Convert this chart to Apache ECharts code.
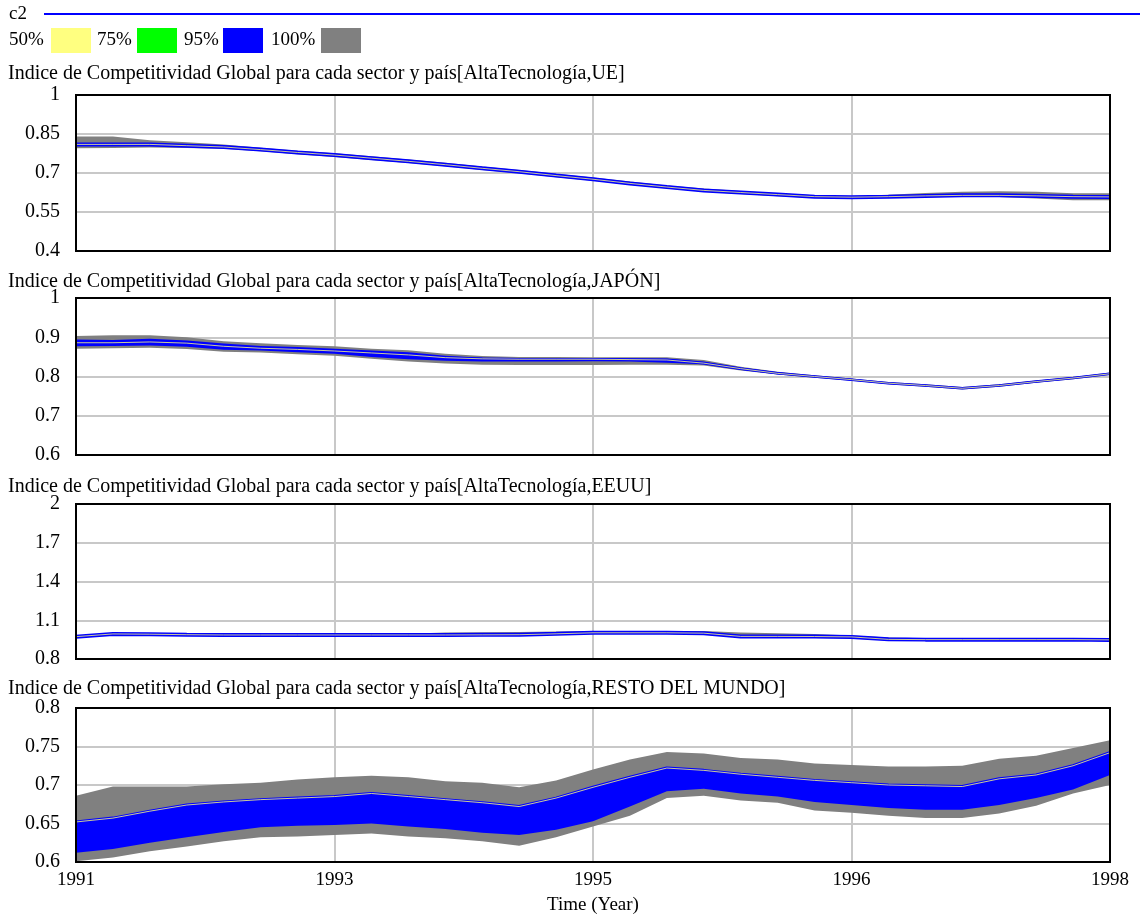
<!DOCTYPE html>
<html>
<head>
<meta charset="utf-8">
<title>Indice de Competitividad Global – AltaTecnología</title>
<script src="https://cdn.jsdelivr.net/npm/echarts@6/dist/echarts.min.js"></script>
<style>
  html, body { margin: 0; padding: 0; background: #fff; }
  #chart { width: 1140px; height: 919px; }
</style>
</head>
<body>
<div id="chart"></div>
<script>
// Simulation time (years), quarterly samples
const years = [1991, 1991.25, 1991.5, 1991.75, 1992, 1992.25, 1992.5, 1992.75,
  1993, 1993.25, 1993.5, 1993.75, 1994, 1994.25, 1994.5, 1994.75,
  1995, 1995.25, 1995.5, 1995.75, 1996, 1996.25, 1996.5, 1996.75,
  1997, 1997.25, 1997.5, 1997.75, 1998];

// Time axis tick labels, one every seven samples (axis split in four equal steps)
const xTickLabels = ['1991', '1993', '1995', '1996', '1998'];
const xTickEvery = 7;

const panelTitles = [
  'Indice de Competitividad Global para cada sector y país[AltaTecnología,UE]',
  'Indice de Competitividad Global para cada sector y país[AltaTecnología,JAPÓN]',
  'Indice de Competitividad Global para cada sector y país[AltaTecnología,EEUU]',
  'Indice de Competitividad Global para cada sector y país[AltaTecnología,RESTO DEL MUNDO]'
];

// UE
const ueC2 = [0.810, 0.810, 0.810, 0.805, 0.800, 0.790, 0.779, 0.769, 0.757, 0.745, 0.732, 0.718,
  0.705, 0.690, 0.676, 0.660, 0.646, 0.633, 0.625, 0.617, 0.609, 0.607, 0.609, 0.612,
  0.614, 0.614, 0.612, 0.609, 0.608];
const ueHi100 = [0.840, 0.840, 0.826, 0.818, 0.810, 0.797, 0.786, 0.776, 0.764, 0.752, 0.739, 0.725,
  0.712, 0.697, 0.683, 0.667, 0.652, 0.640, 0.631, 0.622, 0.614, 0.612, 0.616, 0.623,
  0.628, 0.630, 0.628, 0.622, 0.622];
const ueLo100 = [0.795, 0.796, 0.798, 0.796, 0.793, 0.784, 0.772, 0.762, 0.750, 0.738, 0.726, 0.712,
  0.699, 0.684, 0.670, 0.655, 0.640, 0.628, 0.619, 0.611, 0.604, 0.603, 0.604, 0.607,
  0.609, 0.608, 0.602, 0.595, 0.595];

// JAPÓN
const jpC2 = [0.886, 0.886, 0.888, 0.885, 0.877, 0.872, 0.869, 0.865, 0.860, 0.855, 0.848, 0.845,
  0.844, 0.844, 0.844, 0.843, 0.842, 0.834, 0.820, 0.808, 0.800, 0.792, 0.783, 0.777,
  0.770, 0.777, 0.787, 0.796, 0.807];
const jpHi95 = [0.894, 0.893, 0.896, 0.892, 0.884, 0.878, 0.875, 0.871, 0.866, 0.862, 0.853, 0.848,
  0.847, 0.847, 0.847, 0.846, 0.846, 0.838, 0.823, 0.811, 0.802, 0.794, 0.785, 0.779,
  0.772, 0.779, 0.789, 0.798, 0.809];
const jpLo95 = [0.877, 0.878, 0.879, 0.876, 0.868, 0.866, 0.862, 0.858, 0.850, 0.844, 0.840, 0.838,
  0.838, 0.838, 0.839, 0.838, 0.835, 0.831, 0.817, 0.806, 0.798, 0.790, 0.781, 0.775,
  0.768, 0.775, 0.785, 0.794, 0.805];
const jpHi100 = [0.903, 0.905, 0.905, 0.900, 0.890, 0.885, 0.880, 0.877, 0.871, 0.867, 0.858, 0.852,
  0.850, 0.850, 0.849, 0.849, 0.849, 0.842, 0.825, 0.812, 0.803, 0.795, 0.786, 0.780,
  0.773, 0.780, 0.790, 0.799, 0.810];
const jpLo100 = [0.871, 0.872, 0.873, 0.870, 0.863, 0.861, 0.857, 0.853, 0.845, 0.838, 0.833, 0.830,
  0.829, 0.829, 0.829, 0.830, 0.830, 0.828, 0.815, 0.805, 0.797, 0.789, 0.780, 0.774,
  0.767, 0.774, 0.784, 0.793, 0.804];

// EEUU
const usC2 = [0.973, 0.994, 0.992, 0.988, 0.986, 0.986, 0.986, 0.986, 0.986, 0.986, 0.986, 0.987,
  0.988, 0.995, 1.003, 1.003, 1.003, 1.000, 0.975, 0.975, 0.974, 0.971, 0.952, 0.950,
  0.950, 0.950, 0.950, 0.950, 0.948];
const usHi100 = [0.977, 0.998, 0.997, 0.993, 0.992, 0.992, 0.993, 0.993, 0.993, 0.995, 1.006, 1.008,
  1.010, 1.012, 1.016, 1.016, 1.016, 1.016, 1.005, 1.000, 0.993, 0.982, 0.966, 0.960,
  0.960, 0.960, 0.960, 0.960, 0.958];
const usLo100 = [0.969, 0.989, 0.986, 0.982, 0.982, 0.982, 0.982, 0.982, 0.982, 0.982, 0.982, 0.982,
  0.983, 0.986, 0.993, 0.993, 0.993, 0.988, 0.970, 0.966, 0.963, 0.958, 0.944, 0.940,
  0.940, 0.940, 0.940, 0.940, 0.938];

// RESTO DEL MUNDO
const rmC2 = [0.652, 0.657, 0.666, 0.674, 0.678, 0.681, 0.683, 0.685, 0.689, 0.685, 0.681, 0.677,
  0.672, 0.683, 0.697, 0.710, 0.722, 0.719, 0.714, 0.710, 0.706, 0.703, 0.700, 0.699,
  0.698, 0.708, 0.713, 0.725, 0.742];
const rmLo95 = [0.612, 0.617, 0.625, 0.632, 0.639, 0.645, 0.647, 0.648, 0.650, 0.646, 0.643, 0.638,
  0.635, 0.642, 0.653, 0.672, 0.692, 0.695, 0.689, 0.685, 0.678, 0.674, 0.670, 0.668,
  0.668, 0.674, 0.683, 0.694, 0.713];
const rmHi100 = [0.686, 0.698, 0.698, 0.698, 0.701, 0.703, 0.707, 0.710, 0.712, 0.710, 0.705, 0.703,
  0.697, 0.706, 0.720, 0.733, 0.743, 0.741, 0.735, 0.733, 0.728, 0.726, 0.724, 0.724,
  0.725, 0.734, 0.738, 0.748, 0.758];
const rmLo100 = [0.601, 0.606, 0.614, 0.620, 0.627, 0.632, 0.633, 0.635, 0.637, 0.633, 0.631, 0.627,
  0.621, 0.632, 0.646, 0.660, 0.683, 0.686, 0.680, 0.677, 0.667, 0.664, 0.660, 0.657,
  0.657, 0.663, 0.673, 0.689, 0.700];

// Y axis ranges per panel
const yMins = [0.4, 0.6, 0.8, 0.6];
const yMaxs = [1, 1, 2, 0.8];
const yIntervals = [0.15, 0.1, 0.3, 0.05];

const COLORS = { p50: '#ffff80', p75: '#00ff00', p95: '#0000ff', p100: '#808080', c2: '#0000ff' };
const FONT = 'Liberation Serif, Times New Roman, serif';
const HIDDEN = 'rgba(0,0,0,0)';

const PLOT_LEFT = 76, PLOT_RIGHT = 30, CANVAS_W = 1140;
const gridBoxes = [
  { top: 95, height: 156 },
  { top: 298, height: 157 },
  { top: 504, height: 155 },
  { top: 708, height: 154 }
];
const titleTops = [64, 272, 477, 679];

const diff = (hi, lo) => hi.map((v, i) => +(v - lo[i]).toFixed(4));

// A filled band between lo and hi: invisible base + stacked thickness
function band(gi, id, lo, hi, color) {
  return [
    { type: 'line', xAxisIndex: gi, yAxisIndex: gi, stack: id, data: lo,
      symbol: 'none', silent: true, color: HIDDEN, lineStyle: { color: HIDDEN, width: 0 }, z: 2 },
    { type: 'line', xAxisIndex: gi, yAxisIndex: gi, stack: id, data: diff(hi, lo),
      symbol: 'none', silent: true, color: color, lineStyle: { color: HIDDEN, width: 0 },
      areaStyle: { color: color, opacity: 1 }, z: 2 }
  ];
}

// c2 run: blue stroke with the pale 50% core along it
function c2Line(gi, arr, width) {
  return [
    { type: 'line', xAxisIndex: gi, yAxisIndex: gi, data: arr, symbol: 'none', silent: true,
      color: COLORS.c2, lineStyle: { color: COLORS.c2, width: width }, z: 4 },
    { type: 'line', xAxisIndex: gi, yAxisIndex: gi, data: arr, symbol: 'none', silent: true,
      color: COLORS.p50, lineStyle: { color: COLORS.p50, width: 0.8 }, z: 5 }
  ];
}

const series = [].concat(
  band(0, 'ue100', ueLo100, ueHi100, COLORS.p100),
  c2Line(0, ueC2, 4),
  band(1, 'jp100', jpLo100, jpHi100, COLORS.p100),
  band(1, 'jp95', jpLo95, jpHi95, COLORS.p95),
  c2Line(1, jpC2, 2.5),
  band(2, 'us100', usLo100, usHi100, COLORS.p100),
  c2Line(2, usC2, 4),
  band(3, 'rm100', rmLo100, rmHi100, COLORS.p100),
  band(3, 'rm95', rmLo95, rmC2, COLORS.p95),
  c2Line(3, rmC2, 3)
);

const grids = gridBoxes.map(b => ({
  left: PLOT_LEFT, right: PLOT_RIGHT, top: b.top, height: b.height, show: false
}));

const xAxes = gridBoxes.map((b, i) => ({
  type: 'category', gridIndex: i, data: years.map(String), boundaryGap: false,
  axisLine: { show: false }, axisTick: { show: false },
  splitLine: { show: true, interval: xTickEvery - 1, lineStyle: { color: '#c8c8c8', width: 2 } },
  axisLabel: {
    show: i === 3, interval: xTickEvery - 1, margin: 9, color: '#000', fontFamily: FONT, fontSize: 19,
    formatter: (v, idx) => xTickLabels[Math.round(idx / xTickEvery)]
  },
  name: i === 3 ? 'Time (Year)' : '', nameLocation: 'middle', nameGap: 34,
  nameTextStyle: { color: '#000', fontFamily: FONT, fontSize: 19 }
}));

const yAxes = gridBoxes.map((b, i) => ({
  type: 'value', gridIndex: i, min: yMins[i], max: yMaxs[i], interval: yIntervals[i],
  axisLine: { show: false }, axisTick: { show: false },
  splitLine: { show: true, lineStyle: { color: '#c8c8c8', width: 2 } },
  axisLabel: { margin: 16, color: '#000', fontFamily: FONT, fontSize: 20 }
}));

const titles = panelTitles.map((t, i) => ({
  text: t, left: 8, top: titleTops[i], padding: 0,
  textStyle: { color: '#000', fontFamily: FONT, fontSize: 20, fontWeight: 'normal' }
}));

// Legend: run line and percentile swatches
const legendItems = [
  { label: '50%', x: 9, box: 51, color: COLORS.p50 },
  { label: '75%', x: 97, box: 137, color: COLORS.p75 },
  { label: '95%', x: 184, box: 223, color: COLORS.p95 },
  { label: '100%', x: 271, box: 321, color: COLORS.p100 }
];
const graphics = [
  { type: 'text', left: 9, top: 5, style: { text: 'c2', fill: '#000', font: '19px ' + FONT } },
  { type: 'line', shape: { x1: 44, y1: 14, x2: 1140, y2: 14 }, style: { stroke: COLORS.c2, lineWidth: 2 } }
];
legendItems.forEach(it => {
  graphics.push({ type: 'text', left: it.x, top: 31, style: { text: it.label, fill: '#000', font: '19px ' + FONT } });
  graphics.push({ type: 'rect', shape: { x: it.box, y: 28, width: 40, height: 25 }, style: { fill: it.color } });
});
// Black frame drawn over each plot area
gridBoxes.forEach(b => {
  graphics.push({
    type: 'rect', z: 100, silent: true,
    shape: { x: PLOT_LEFT, y: b.top, width: CANVAS_W - PLOT_LEFT - PLOT_RIGHT, height: b.height },
    style: { fill: 'none', stroke: '#000', lineWidth: 2 }
  });
});

const chart = echarts.init(document.getElementById('chart'), null, { renderer: 'canvas' });
chart.setOption({
  animation: false,
  backgroundColor: '#fff',
  title: titles,
  grid: grids,
  xAxis: xAxes,
  yAxis: yAxes,
  series: series,
  graphic: graphics
});
</script>
</body>
</html>
